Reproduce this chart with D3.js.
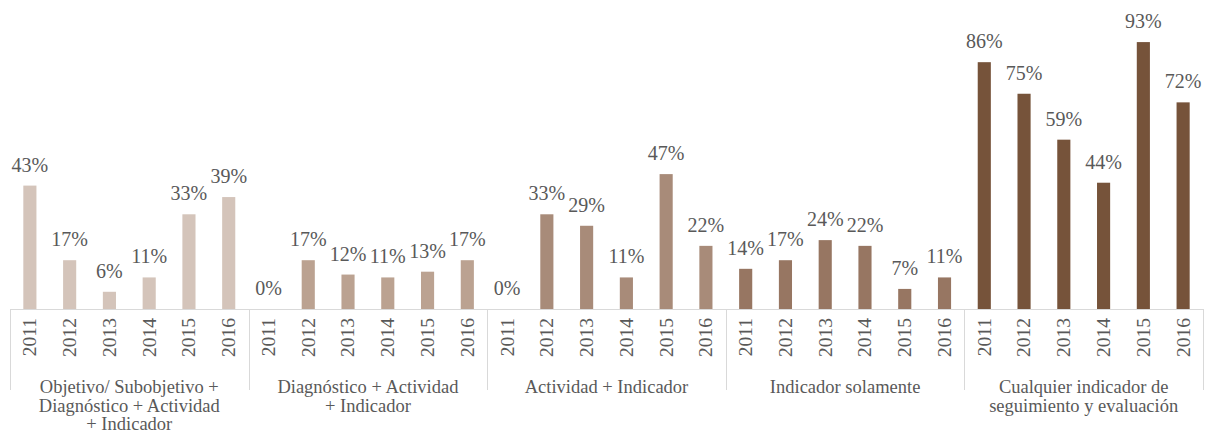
<!DOCTYPE html>
<html><head><meta charset="utf-8"><script src="https://cdn.jsdelivr.net/npm/d3@7"></script></head>
<body style="margin:0">
<svg id="s" width="1212" height="435"></svg>
<script>
const groups = [
  ["Objetivo/ Subobjetivo +", "Diagnóstico + Actividad", "+ Indicador"],
  ["Diagnóstico + Actividad", "+ Indicador"],
  ["Actividad + Indicador"],
  ["Indicador solamente"],
  ["Cualquier indicador de", "seguimiento y evaluación"]
];
const years = ["2011", "2012", "2013", "2014", "2015", "2016"];
const values = [
  [43, 17, 6, 11, 33, 39],
  [0, 17, 12, 11, 13, 17],
  [0, 33, 29, 11, 47, 22],
  [14, 17, 24, 22, 7, 11],
  [86, 75, 59, 44, 93, 72]
];
const colors = ["#d4c4ba", "#bba291", "#a88b79", "#977662", "#76533a"];

const TXT = "#595959";
const svg = d3.select("#s");
const plotLeft = 10, plotRight = 1203, plotBase = 309, plotTop = 22;

const x0 = d3.scaleBand().domain(d3.range(groups.length)).range([plotLeft, plotRight]).padding(0);
const x1 = d3.scaleBand().domain(years).range([0, x0.bandwidth()]).paddingInner(0.67).paddingOuter(0.335);
const y = d3.scaleLinear().domain([0, 100]).range([plotBase, plotTop]);

function serif(sel, size) {
  return sel.attr("font-size", size).attr("fill", TXT)
    .attr("font-family", "Liberation Serif")
    .style("font-family", "'Liberation Serif'");
}

svg.append("line")
  .attr("x1", plotLeft).attr("x2", plotRight)
  .attr("y1", plotBase + 0.5).attr("y2", plotBase + 0.5)
  .attr("stroke", "#d9d9d9").attr("stroke-width", 1);

const seps = d3.range(groups.length + 1).map(i => i < groups.length ? x0(i) : plotRight);
seps.forEach(d => {
  svg.append("line")
    .attr("x1", Math.round(d) + 0.5).attr("x2", Math.round(d) + 0.5)
    .attr("y1", plotBase).attr("y2", 390)
    .attr("stroke", "#d9d9d9").attr("stroke-width", 1);
});

values.forEach((vals, i) => {
  const gx = x0(i);
  vals.forEach((v, j) => {
    const bx = gx + x1(years[j]);
    svg.append("rect")
      .attr("x", bx).attr("width", x1.bandwidth())
      .attr("y", y(v)).attr("height", plotBase - y(v))
      .attr("fill", colors[i]);
    serif(svg.append("text"), 20)
      .attr("x", bx + x1.bandwidth() / 2)
      .attr("y", y(v) - 14)
      .attr("text-anchor", "middle")
      .text(v + "%");
  });
  years.forEach(yr => {
    serif(svg.append("text"), 19.5)
      .attr("transform", `translate(${gx + x1(yr) + x1.bandwidth() / 2},318) rotate(-90)`)
      .attr("text-anchor", "end")
      .attr("dy", "0.33em")
      .text(yr);
  });
  groups[i].forEach((line, k) => {
    serif(svg.append("text"), 18.5)
      .attr("x", gx + x0.bandwidth() / 2)
      .attr("y", 393 + k * 18.5)
      .attr("text-anchor", "middle")
      .text(line);
  });
});
</script></body></html>
